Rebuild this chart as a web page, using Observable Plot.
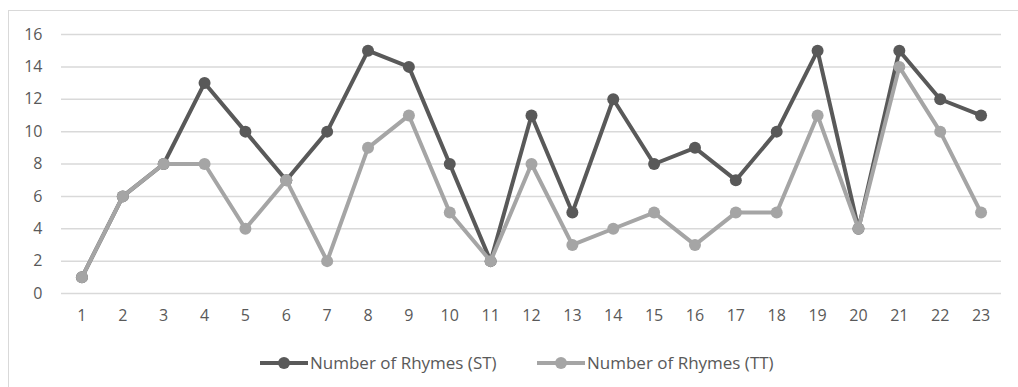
<!DOCTYPE html>
<html>
<head>
<meta charset="utf-8">
<script src="https://cdn.jsdelivr.net/npm/d3@7"></script>
<script src="https://cdn.jsdelivr.net/npm/@observablehq/plot@0.6"></script>
<style>
  html, body { margin: 0; padding: 0; background: #fff; }
  #wrap { position: relative; width: 1018px; height: 387px; overflow: hidden; font-family: "Open Sans", sans-serif; }
  #frame { position: absolute; left: 8px; top: 10px; width: 1100px; height: 500px; border: 1px solid #d9d9d9; box-sizing: border-box; }
  #chart { position: absolute; left: 0; top: 0; }
  #legend { position: absolute; top: 352px; left: 0; width: 1018px; height: 22px; }
  .item { position: absolute; top: 0; display: flex; align-items: center; font-size: 17px; color: #595959; white-space: nowrap; line-height: 22px; }
  .item svg { display: block; }
</style>
</head>
<body>
<div id="wrap">
  <div id="frame"></div>
  <div id="chart"></div>
  <div id="legend"></div>
</div>
<script>
// Poem numbers along the x axis
const poems = ["1","2","3","4","5","6","7","8","9","10","11","12","13","14","15","16","17","18","19","20","21","22","23"];
// Rhyme counts per poem, source text and translation
const rhymesST = [1, 6, 8, 13, 10, 7, 10, 15, 14, 8, 2, 11, 5, 12, 8, 9, 7, 10, 15, 4, 15, 12, 11];
const rhymesTT = [1, 6, 8, 8, 4, 7, 2, 9, 11, 5, 2, 8, 3, 4, 5, 3, 5, 5, 11, 4, 14, 10, 5];
const yTicks = [0, 2, 4, 6, 8, 10, 12, 14, 16];
const seriesNames = ["Number of Rhymes (ST)", "Number of Rhymes (TT)"];
const seriesColors = ["#595959", "#a5a5a5"];

const st = poems.map((p, i) => ({poem: p, value: rhymesST[i]}));
const tt = poems.map((p, i) => ({poem: p, value: rhymesTT[i]}));

const chart = Plot.plot({
  width: 1018,
  height: 335,
  marginLeft: 61,
  marginRight: 17,
  marginTop: 34,
  marginBottom: 42,
  style: {fontFamily: "Open Sans, sans-serif", fontSize: "16px", color: "#595959", background: "transparent"},
  x: {type: "point", domain: poems, padding: 0.5, round: false, label: null, tickSize: 0, tickPadding: 16},
  y: {domain: [0, 16], ticks: yTicks, label: null, tickSize: 0, tickPadding: 19},
  marks: [
    Plot.ruleY(yTicks, {stroke: "#d9d9d9", strokeWidth: 1.5}),
    Plot.line(st, {x: "poem", y: "value", stroke: seriesColors[0], strokeWidth: 4}),
    Plot.dot(st, {x: "poem", y: "value", r: 6, fill: seriesColors[0], stroke: "none"}),
    Plot.line(tt, {x: "poem", y: "value", stroke: seriesColors[1], strokeWidth: 4}),
    Plot.dot(tt, {x: "poem", y: "value", r: 6, fill: seriesColors[1], stroke: "none"})
  ]
});
document.getElementById("chart").appendChild(chart);

// Legend: line-and-marker swatch followed by series name
const legend = document.getElementById("legend");
const starts = [260, 537];
seriesNames.forEach((name, i) => {
  const item = document.createElement("div");
  item.className = "item";
  item.style.left = starts[i] + "px";
  item.innerHTML = `<svg width="48" height="14"><line x1="0" y1="7" x2="48" y2="7" stroke="${seriesColors[i]}" stroke-width="4"/><circle cx="24" cy="7" r="6" fill="${seriesColors[i]}"/></svg><span style="margin-left:2px">${name}</span>`;
  legend.appendChild(item);
});
</script>
</body>
</html>
